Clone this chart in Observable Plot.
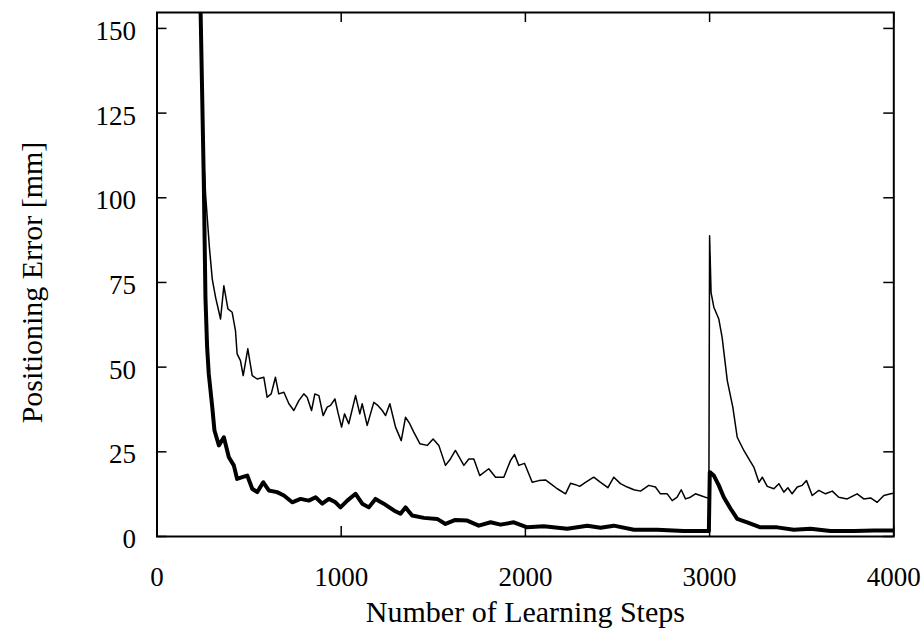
<!DOCTYPE html>
<html><head><meta charset="utf-8">
<script src="https://cdn.jsdelivr.net/npm/d3@7"></script>
<script src="https://cdn.jsdelivr.net/npm/@observablehq/plot@0.6"></script>
<style>html,body{margin:0;padding:0;background:#fff} #chart svg{display:block}</style>
</head><body><div id="chart"></div>
<script>
const xTicks = [0, 1000, 2000, 3000, 4000];
const yTicks = [0, 25, 50, 75, 100, 125, 150];
const xLabel = "Number of Learning Steps";
const yLabel = "Positioning Error [mm]";

const thinSteps = [235,255,265,285,300,318,345,363,385,408,426,435,453,468,493,517,544,580,598,620,643,661,689,716,743,770,797,815,839,857,879,902,924,942,966,982,1002,1018,1041,1078,1101,1114,1141,1177,1199,1223,1241,1264,1295,1326,1349,1372,1394,1427,1467,1499,1530,1566,1593,1620,1666,1693,1720,1752,1801,1838,1883,1919,1941,1964,1995,2037,2073,2109,2136,2173,2218,2245,2272,2295,2326,2371,2408,2448,2480,2516,2553,2589,2625,2670,2706,2733,2770,2797,2824,2846,2869,2896,2923,2950,2987,2996,3000,3008,3023,3050,3068,3096,3126,3150,3186,3213,3240,3268,3286,3313,3349,3376,3403,3425,3448,3476,3503,3526,3557,3593,3629,3666,3701,3747,3801,3837,3874,3910,3946,3983,4000];
const thinError = [160,110,100,85,76,70.6,64.2,74,67.2,66.2,60.8,53.9,51.9,47.5,55.4,47.5,46.5,47,41.1,42.1,47,42.1,42.6,39.2,37.2,40.1,42.1,41.1,37.2,42.1,41.6,35.7,38.2,38.7,40.6,36.7,32.3,36.2,33.3,41.6,36.2,39.2,32.8,39.6,38.7,37.2,35.7,39.2,32.3,28.3,35.2,33.3,30.8,27.4,26.9,28.8,26.9,21,22.9,25.4,21,22.9,22.9,18,20,17.5,17.5,22.4,24.2,21,21.6,16,16.5,16.7,15.6,14.1,12.6,15.7,15.3,14.8,16,17.5,16,14.4,17.5,15.6,14.6,13.8,13.4,15.1,14.6,12.6,12.6,10.6,11.6,13.8,11.1,11.6,12.6,12.1,11.4,11.4,88.8,72,67.7,64.2,58.8,46,38.2,29.3,25.4,22.9,20.5,16,17.5,14.8,14.1,15.6,13.1,14.4,12.6,14.6,15.1,16.5,12.1,13.6,12.6,13.4,11.6,11.1,12.6,11.1,11.4,10.1,12.1,12.6,12.8];

const thickSteps = [235,254,263,272,281,300,312,336,363,390,417,435,463,490,517,544,577,607,652,689,734,779,824,861,897,933,969,996,1033,1078,1114,1150,1186,1231,1286,1322,1349,1385,1449,1521,1566,1620,1684,1747,1811,1865,1937,2010,2100,2227,2336,2408,2480,2589,2716,2860,2987,2996,3001,3023,3050,3077,3114,3150,3204,3276,3367,3457,3548,3656,3783,3892,3983,4000];
const thickError = [160,105,70.6,56,48,38.2,31.3,26.9,29.3,23.4,21,17,17.5,18,14.1,13.1,16,13.6,13.1,12.1,10.1,11.1,10.6,11.6,9.7,11.1,10.1,8.6,10.6,12.6,9.7,8.6,11.1,9.7,7.7,6.7,8.6,6.2,5.5,5.2,3.7,4.9,4.7,3.2,4.2,3.5,4.2,2.7,3,2.3,3.2,2.6,3.2,2,2,1.6,1.6,1.6,19,18,15.1,11.6,8.2,5.2,4.2,2.7,2.7,2,2.3,1.6,1.6,1.8,1.8,1.8];

const thin = thinSteps.map((s, i) => ({step: s, err: thinError[i]}));
const thick = thickSteps.map((s, i) => ({step: s, err: thickError[i]}));

const W = 922, H = 632, mL = 156.5, mR = 28.7, mT = 12, mB = 96;
const pw = W - mL - mR, ph = H - mT - mB;
const tk = 10;

const chart = Plot.plot({
  width: W, height: H,
  marginLeft: mL, marginRight: mR, marginTop: mT, marginBottom: mB,
  style: {fontFamily: "'Liberation Serif', 'Times New Roman', serif", fontSize: "27px", color: "#000", background: "#fff"},
  x: {domain: [0, 4000]},
  y: {domain: [0, 154.7]},
  marks: [
    Plot.line(thin, {x: "step", y: "err", stroke: "#000", strokeWidth: 1.5, clip: true}),
    Plot.line(thick, {x: "step", y: "err", stroke: "#000", strokeWidth: 4, clip: true, strokeLinejoin: "round"}),
    Plot.tickX(xTicks, {x: d => d, insetTop: ph - tk, stroke: "#000", strokeWidth: 1.5}),
    Plot.tickX(xTicks, {x: d => d, insetBottom: ph - tk, stroke: "#000", strokeWidth: 1.5}),
    Plot.tickY(yTicks, {y: d => d, insetRight: pw - tk, stroke: "#000", strokeWidth: 1.5}),
    Plot.tickY(yTicks, {y: d => d, insetLeft: pw - tk, stroke: "#000", strokeWidth: 1.5}),
    Plot.frame({stroke: "#000", strokeWidth: 2}),
    Plot.axisX(xTicks, {tickSize: 0, tickPadding: 30, label: null, tickFormat: d3.format("d"), fontSize: 27}),
    Plot.axisY(yTicks, {tickSize: 0, tickPadding: 21, dy: 3, label: null, tickFormat: d3.format("d"), fontSize: 27}),
    Plot.text([xLabel], {frameAnchor: "bottom", lineAnchor: "middle", textAnchor: "middle", dy: 76, fontSize: 30, text: d => d}),
    Plot.text([yLabel], {frameAnchor: "left", lineAnchor: "middle", textAnchor: "middle", dx: -125, dy: 8, rotate: -90, fontSize: 30, text: d => d})
  ]
});
document.getElementById("chart").append(chart);
</script>
</body></html>
